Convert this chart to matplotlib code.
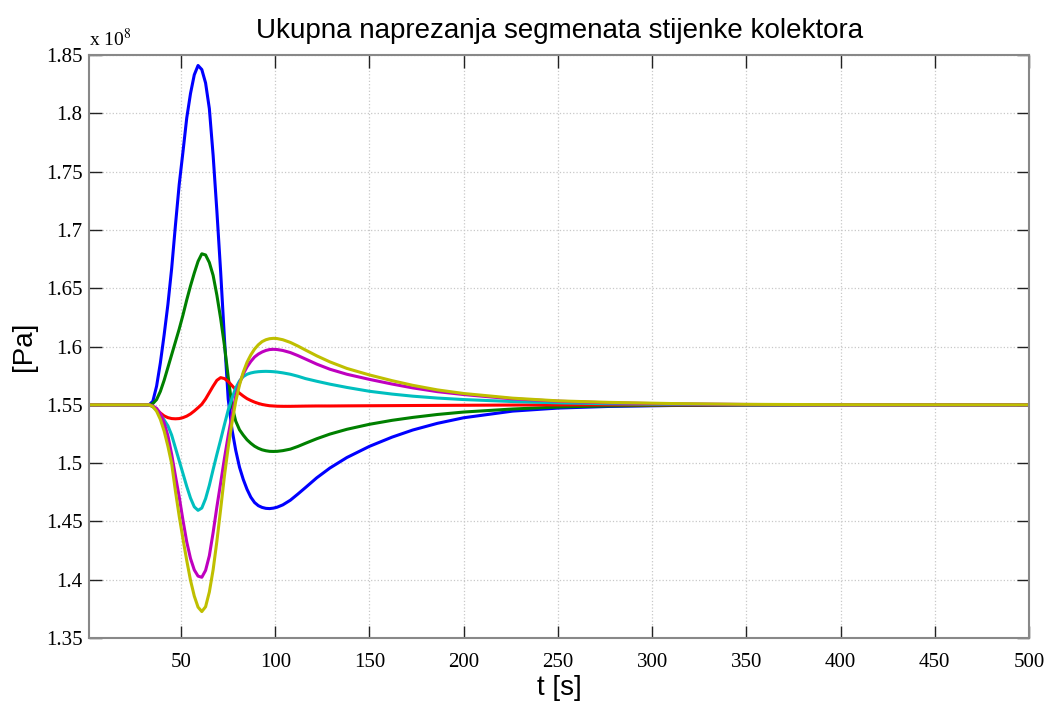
import matplotlib
matplotlib.use('Agg')
import matplotlib.pyplot as plt

# time axis [s]
t = [0, 33, 35, 37, 39, 41, 43, 45, 47, 49, 51, 53, 55, 57, 59, 61, 63, 65, 67, 69,
     71, 73, 75, 77, 79, 81, 83, 85, 87, 89, 91, 93, 95, 97, 99, 101,
     104, 108, 112, 116, 122, 129, 138, 150, 162, 173, 186, 200, 226, 250, 277,
     310, 350, 400, 500]

# stress of each wall segment, in units of 1e8 Pa
seg1 = [1.55, 1.55, 1.553, 1.566, 1.586, 1.610, 1.636, 1.667, 1.704, 1.739, 1.767, 1.796,
        1.817, 1.833, 1.841, 1.8375, 1.826, 1.804, 1.764, 1.716, 1.664, 1.607, 1.555, 1.529,
        1.511, 1.4965, 1.486, 1.4775, 1.4708, 1.4662, 1.4635, 1.462, 1.4612, 1.461, 1.4614,
        1.4622,
        1.4642, 1.4682, 1.4735, 1.479, 1.4874, 1.4958, 1.5048, 1.5144, 1.5223, 1.5284,
        1.5341, 1.5389, 1.5446, 1.5472, 1.5486, 1.5494, 1.5498, 1.55, 1.55]
seg2 = [1.55, 1.55, 1.551, 1.5545, 1.5615, 1.571, 1.582, 1.593, 1.604, 1.615, 1.627, 1.640,
        1.652, 1.663, 1.673, 1.6795, 1.6785, 1.672, 1.661, 1.644, 1.624, 1.601, 1.574, 1.549,
        1.536, 1.5286, 1.524, 1.520, 1.517, 1.5145, 1.5127, 1.5114, 1.5106, 1.5101, 1.510,
        1.5101,
        1.5107, 1.512, 1.5143, 1.517, 1.5209, 1.5249, 1.529, 1.5333, 1.5367, 1.5392,
        1.5417, 1.5438, 1.5464, 1.5481, 1.5491, 1.5496, 1.5499, 1.55, 1.55]
seg3 = [1.55, 1.55, 1.5485, 1.546, 1.543, 1.5405, 1.539, 1.5382, 1.538, 1.5382, 1.539, 1.5403,
        1.5422, 1.5447, 1.5475, 1.5505, 1.555, 1.5605, 1.566, 1.571, 1.5733, 1.5725, 1.570,
        1.5665, 1.563, 1.560, 1.5575, 1.5553, 1.5537, 1.5523, 1.5512, 1.5503, 1.5497, 1.5492,
        1.549, 1.5488,
        1.5487, 1.5487, 1.5488, 1.5489, 1.549, 1.549, 1.5491, 1.5492, 1.5493, 1.5494,
        1.5495, 1.5496, 1.5498, 1.5499, 1.55, 1.55, 1.55, 1.55, 1.55]
seg4 = [1.55, 1.55, 1.5485, 1.5455, 1.5415, 1.537, 1.532, 1.524, 1.513, 1.502, 1.491, 1.480,
        1.470, 1.4625, 1.4595, 1.4615, 1.4695, 1.481, 1.4945, 1.5075, 1.520, 1.533, 1.5455,
        1.5555, 1.5645, 1.5705, 1.5742, 1.5762, 1.5773, 1.578, 1.5784, 1.5786, 1.5787, 1.5786,
        1.5784, 1.5781,
        1.5774, 1.5762, 1.5745, 1.5725, 1.5702, 1.5677, 1.5649, 1.5616, 1.5592, 1.5574,
        1.5558, 1.5545, 1.5528, 1.5517, 1.5509, 1.5504, 1.5501, 1.55, 1.55]
seg5 = [1.55, 1.55, 1.549, 1.547, 1.5425, 1.5345, 1.5235, 1.5075, 1.489, 1.471, 1.451, 1.4324,
        1.4182, 1.4084, 1.4031, 1.4021, 1.408, 1.4206, 1.4404, 1.4625, 1.483, 1.504, 1.5235,
        1.541, 1.5575, 1.5685, 1.5765, 1.5825, 1.5872, 1.591, 1.5935, 1.5953, 1.5966, 1.5974,
        1.5976, 1.5974,
        1.5966, 1.5948, 1.5922, 1.5893, 1.5849, 1.5805, 1.5762, 1.5718, 1.5678, 1.5645,
        1.5613, 1.5588, 1.5551, 1.5531, 1.5517, 1.5508, 1.5503, 1.55, 1.55]
seg6 = [1.55, 1.55, 1.5485, 1.5445, 1.5375, 1.5275, 1.5145, 1.4995, 1.476, 1.4545, 1.435,
        1.4165, 1.3995, 1.386, 1.3765, 1.3727, 1.3768, 1.3895, 1.4085, 1.433, 1.4605, 1.489,
        1.5135, 1.5345, 1.553, 1.567, 1.578, 1.5865, 1.5928, 1.5978, 1.6015, 1.6042, 1.6058,
        1.6067, 1.607, 1.6068,
        1.6058, 1.6035, 1.6004, 1.597, 1.592, 1.5868, 1.5812, 1.5756, 1.5707, 1.5667,
        1.5628, 1.5597, 1.5557, 1.5534, 1.5521, 1.5511, 1.5504, 1.5501, 1.55]

series = [seg1, seg2, seg3, seg4, seg5, seg6]
colors = ['#0000ff', '#008000', '#ff0000', '#00bfbf', '#bf00bf', '#bfbf00']

yticks = [1.35, 1.4, 1.45, 1.5, 1.55, 1.6, 1.65, 1.7, 1.75, 1.8, 1.85]
xticks = [50, 100, 150, 200, 250, 300, 350, 400, 450, 500]

plt.rcParams['mathtext.fontset'] = 'stix'

fig = plt.figure(figsize=(10.51, 7.05), dpi=100)
ax = fig.add_axes([0.085, 0.095, 0.894, 0.827])

for vals, c in zip(series, colors):
    ax.plot(t, vals, color=c, lw=2.2, solid_joinstyle='round')

ax.set_xlim(1.3, 500)
ax.set_ylim(1.35, 1.85)
ax.set_xticks(xticks)
ax.set_yticks(yticks)
ax.set_xticklabels([str(v) for v in xticks], family='Liberation Serif', fontsize=15)
ax.set_yticklabels([('%.2f' % v).rstrip('0') for v in yticks], family='Liberation Serif', fontsize=15)
ax.tick_params(direction='in', length=9, width=1, top=True, right=True, color='#222222')
ax.tick_params(axis='x', pad=11)
ax.tick_params(axis='y', pad=5)

for s in ax.spines.values():
    s.set_color('#888888')
    s.set_linewidth(1.5)

ax.grid(True, linestyle=':', color='#c8c8c8', linewidth=0.9)

ax.set_title('Ukupna naprezanja segmenata stijenke kolektora',
             family='Liberation Sans', fontsize=20, pad=12)
ax.set_xlabel('t [s]', family='Liberation Sans', fontsize=20, labelpad=2)
ax.set_ylabel('[Pa]', family='Liberation Sans', fontsize=20, labelpad=6)
ax.text(0.0, 1.008, r'x 10$^{8}$', transform=ax.transAxes, family='Liberation Serif',
        fontsize=14, ha='left', va='bottom')

fig.savefig('out.png', dpi=100)
